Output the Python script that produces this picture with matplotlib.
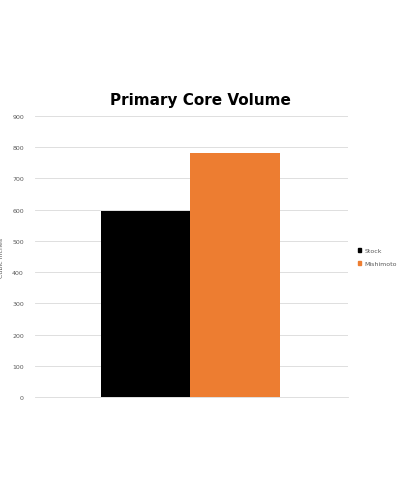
import matplotlib.pyplot as plt
from matplotlib.patches import Patch

series = ['Stock', 'Mishimoto']
values = [597, 782]
colors = ['#000000', '#ED7D31']
yticks = list(range(0, 1000, 100))

fig = plt.figure(figsize=(4, 4.89), dpi=100)
ax = fig.add_axes([0.0875, 0.186, 0.7825, 0.575])

ax.bar([0, 1], values, width=1.0, color=colors)
ax.set_xlim(-1.237, 2.26)
ax.set_ylim(0, 900)
ax.set_yticks(yticks)
ax.set_xticks([])
ax.tick_params(axis='y', labelsize=4.5, colors='#595959', length=0, pad=8)
ax.grid(axis='y', color='#D9D9D9', linewidth=0.6)
ax.set_axisbelow(True)
for s in ['top', 'right', 'left']:
    ax.spines[s].set_visible(False)
ax.spines['bottom'].set_color('#D9D9D9')
ax.spines['bottom'].set_linewidth(0.6)
ax.set_ylabel('Cubic Inches', fontsize=4.5, color='#595959', labelpad=6)

fig.text(0.5, 0.795, 'Primary Core Volume', ha='center', va='center',
         fontsize=11, fontweight='bold', color='#000000')

handles = [Patch(color=c, label=s) for s, c in zip(series, colors)]
fig.legend(handles=handles, loc='center left', bbox_to_anchor=(0.88, 0.472),
           frameon=False, fontsize=4.5, handlelength=0.6, handleheight=0.6,
           handletextpad=0.5, labelcolor='#595959', labelspacing=1.2)

fig.savefig('out.png', dpi=100)
